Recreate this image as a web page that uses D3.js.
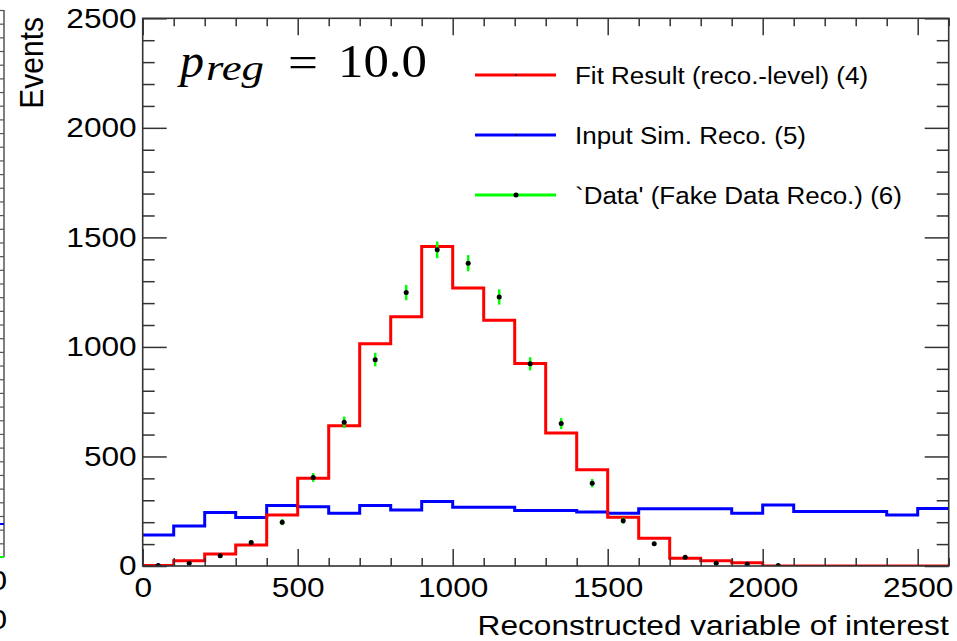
<!DOCTYPE html>
<html>
<head>
<meta charset="utf-8">
<script src="https://cdn.jsdelivr.net/npm/d3@7"></script>
<style>
body { margin: 0; background: #fff; }
svg { display: block; font-family: "Liberation Sans", Arial, Helvetica, sans-serif; }
</style>
</head>
<body>
<svg id="chart" width="957" height="641"></svg>
<script>
// bins of width 100, lower edges
const binLow = [0, 100, 200, 300, 400, 500, 600, 700, 800, 900, 1000, 1100, 1200,
  1300, 1400, 1500, 1600, 1700, 1800, 1900, 2000, 2100, 2200, 2300, 2400, 2500];
const binHigh = 2600;

// Fit Result (reco.-level) (4)
const fitResult = [2, 24, 55, 96, 233, 401, 640, 1014, 1138, 1458, 1269, 1122, 924,
  607, 439, 223, 127, 35, 24, 15, 0, 0, 0, 0, 0, 0];
// Input Sim. Reco. (5)
const inputSim = [142, 183, 244, 221, 276, 271, 241, 276, 256, 294, 268, 268, 253,
  253, 246, 241, 261, 261, 261, 241, 278, 249, 249, 249, 233, 262];
// `Data' (Fake Data Reco.) (6)
const dataX = [50, 150, 250, 350, 450, 550, 650, 750, 850, 950, 1050, 1150, 1250,
  1350, 1450, 1550, 1650, 1750, 1850, 1950, 2050];
const dataY = [2, 12, 47, 107, 200, 404, 656, 942, 1248, 1443, 1382, 1228, 923,
  650, 378, 207, 101, 40, 12, 8, 2];
const dataErr = [1, 3, 7, 10, 14, 20, 26, 31, 35, 38, 37, 35, 30,
  25, 19, 14, 10, 6, 3, 3, 1];

const xTicks = [0, 500, 1000, 1500, 2000, 2500];
const yTicks = [0, 500, 1000, 1500, 2000, 2500];
const legendLabels = ["Fit Result (reco.-level) (4)", "Input Sim. Reco. (5)", "`Data' (Fake Data Reco.) (6)"];
const legendColors = ["#ff0000", "#0000ff", "#00ff00"];

const sx = 1.13; // picture is a bit stretched sideways
const axisColor = "#333";

const svg = d3.select("#chart");
const padL = 142.7, padR = 948.7, padT = 18.3, padB = 566;

const x = d3.scaleLinear().domain([0, binHigh]).range([padL, padR]);
const y = d3.scaleLinear().domain([0, 2500]).range([padB, padT]);

// bit of the neighbour pad on the far left
let yOld = d3.scaleLinear().domain([0, 40]).range([557, 10]);
let gOld = svg.append("g").attr("transform", "translate(4,0)");
gOld.call(d3.axisLeft(yOld).tickValues(d3.range(0, 41, 1)).tickSize(4).tickFormat(""))
  .call(g => g.select(".domain").remove());
gOld.selectAll("line").attr("stroke", "#555").attr("stroke-width", 1.2);
gOld.append("line").attr("x1", 0).attr("x2", 0).attr("y1", 10).attr("y2", 557)
  .attr("stroke", "#555").attr("stroke-width", 1.5);
gOld.append("line").attr("x1", -4).attr("x2", 0).attr("y1", 524).attr("y2", 524)
  .attr("stroke", "#0000ff").attr("stroke-width", 2);
gOld.append("line").attr("x1", -4).attr("x2", 0).attr("y1", 557).attr("y2", 557)
  .attr("stroke", "#00ff00").attr("stroke-width", 2);
[590, 629].forEach(b => {
  svg.append("text").attr("transform", `translate(7,${b}) scale(${sx},1)`)
    .attr("text-anchor", "end").attr("font-size", 28).text("0");
});

// plot area
svg.append("clipPath").attr("id", "frame")
  .append("rect").attr("x", padL).attr("y", padT)
  .attr("width", padR - padL).attr("height", padB - padT);

let plot = svg.append("g").attr("clip-path", "url(#frame)");

function stepPoints(vals) {
  let pts = binLow.map((b, i) => [b, vals[i]]);
  pts.push([binHigh, vals[vals.length - 1]]);
  return pts;
}
let stepLine = d3.line()
  .x(d => x(d[0]))
  .y(d => y(d[1]))
  .curve(d3.curveStepAfter);

plot.append("path")
  .attr("d", stepLine(stepPoints(inputSim)))
  .attr("fill", "none").attr("stroke", "#0000ff").attr("stroke-width", 3);

plot.append("path")
  .attr("d", stepLine(stepPoints(fitResult)))
  .attr("fill", "none").attr("stroke", "#ff0000").attr("stroke-width", 3);

// data points with error bars
let pts = dataX.map((d, i) => ({ x: d, y: dataY[i], e: dataErr[i] }));
plot.selectAll(".err")
  .data(pts)
  .enter().append("line")
  .attr("class", "err")
  .attr("x1", d => x(d.x)).attr("x2", d => x(d.x))
  .attr("y1", d => y(d.y - d.e)).attr("y2", d => y(d.y + d.e))
  .attr("stroke", "#00ff00").attr("stroke-width", 2.5);
plot.selectAll(".dot")
  .data(pts)
  .enter().append("circle")
  .attr("class", "dot")
  .attr("cx", d => x(d.x)).attr("cy", d => y(d.y))
  .attr("r", 2.5).attr("fill", "#000");

// axes, ticks inside the frame on all four sides
let xMinor = d3.range(0, binHigh + 1, 100).filter(v => !xTicks.includes(v));
let yMinor = d3.range(0, 2501, 100).filter(v => !yTicks.includes(v));

function tidy(g) {
  g.select(".domain").remove();
  g.selectAll("line").attr("stroke", axisColor).attr("stroke-width", 1.5);
}

let gx = svg.append("g").attr("transform", `translate(0,${padB})`)
  .call(d3.axisBottom(x).tickValues(xTicks).tickSize(-17).tickPadding(11).tickFormat(d3.format("d")))
  .call(tidy);
gx.selectAll("text")
  .attr("font-size", 28).attr("font-family", null).attr("fill", "#000")
  .attr("transform", `scale(${sx},1)`);
svg.append("g").attr("transform", `translate(0,${padB})`)
  .call(d3.axisBottom(x).tickValues(xMinor).tickSize(-8).tickFormat(""))
  .call(tidy);

svg.append("g").attr("transform", `translate(0,${padT})`)
  .call(d3.axisTop(x).tickValues(xTicks).tickSize(-17).tickFormat(""))
  .call(tidy);
svg.append("g").attr("transform", `translate(0,${padT})`)
  .call(d3.axisTop(x).tickValues(xMinor).tickSize(-8).tickFormat(""))
  .call(tidy);

let gy = svg.append("g").attr("transform", `translate(${padL},0)`)
  .call(d3.axisLeft(y).tickValues(yTicks).tickSize(-24).tickPadding(6).tickFormat(d3.format("d")))
  .call(tidy);
gy.selectAll("text")
  .attr("font-size", 28).attr("font-family", null).attr("fill", "#000")
  .attr("x", -6 / sx)
  .attr("transform", `scale(${sx},1)`);
svg.append("g").attr("transform", `translate(${padL},0)`)
  .call(d3.axisLeft(y).tickValues(yMinor).tickSize(-12).tickFormat(""))
  .call(tidy);

svg.append("g").attr("transform", `translate(${padR},0)`)
  .call(d3.axisRight(y).tickValues(yTicks).tickSize(-24).tickFormat(""))
  .call(tidy);
svg.append("g").attr("transform", `translate(${padR},0)`)
  .call(d3.axisRight(y).tickValues(yMinor).tickSize(-12).tickFormat(""))
  .call(tidy);

svg.append("rect")
  .attr("x", padL).attr("y", padT)
  .attr("width", padR - padL).attr("height", padB - padT)
  .attr("fill", "none").attr("stroke", axisColor).attr("stroke-width", 1.6);

// axis titles
svg.append("text")
  .attr("transform", `translate(${padR},635) scale(${sx},1)`)
  .attr("text-anchor", "end").attr("font-size", 28)
  .text("Reconstructed variable of interest");
svg.append("text")
  .attr("transform", `translate(43,17) scale(${sx},1) rotate(-90)`)
  .attr("text-anchor", "end").attr("font-size", 30)
  .text("Events");

// p_reg label
let preg = svg.append("g").attr("font-family", "'Liberation Serif', 'Times New Roman', serif");
preg.append("text").attr("x", 180).attr("y", 77)
  .attr("font-size", 48).attr("font-style", "italic").text("p");
preg.append("text").attr("x", 206).attr("y", 80)
  .attr("font-size", 36).attr("font-style", "italic")
  .attr("textLength", 58).attr("lengthAdjust", "spacingAndGlyphs").text("reg");
preg.append("text").attr("x", 288).attr("y", 77)
  .attr("font-size", 44).attr("textLength", 30).attr("lengthAdjust", "spacingAndGlyphs").text("=");
preg.append("text").attr("x", 338).attr("y", 77)
  .attr("font-size", 47).attr("textLength", 89).attr("lengthAdjust", "spacingAndGlyphs").text("10.0");

// legend
let legend = svg.append("g");
let rows = legend.selectAll(".row")
  .data(legendLabels)
  .enter().append("g")
  .attr("class", "row")
  .attr("transform", (d, i) => `translate(0,${75 + i * 60})`);
rows.append("line")
  .attr("x1", 475).attr("x2", 556).attr("y1", 0).attr("y2", 0)
  .attr("stroke", (d, i) => legendColors[i]).attr("stroke-width", 3);
rows.append("circle")
  .attr("cx", 516).attr("cy", 0)
  .attr("r", (d, i) => i === 2 ? 2.5 : 1)
  .attr("fill", "#000");
rows.append("text")
  .attr("transform", `translate(575,9) scale(${sx},1)`)
  .attr("font-size", 23)
  .text(d => d);
</script>
</body>
</html>
